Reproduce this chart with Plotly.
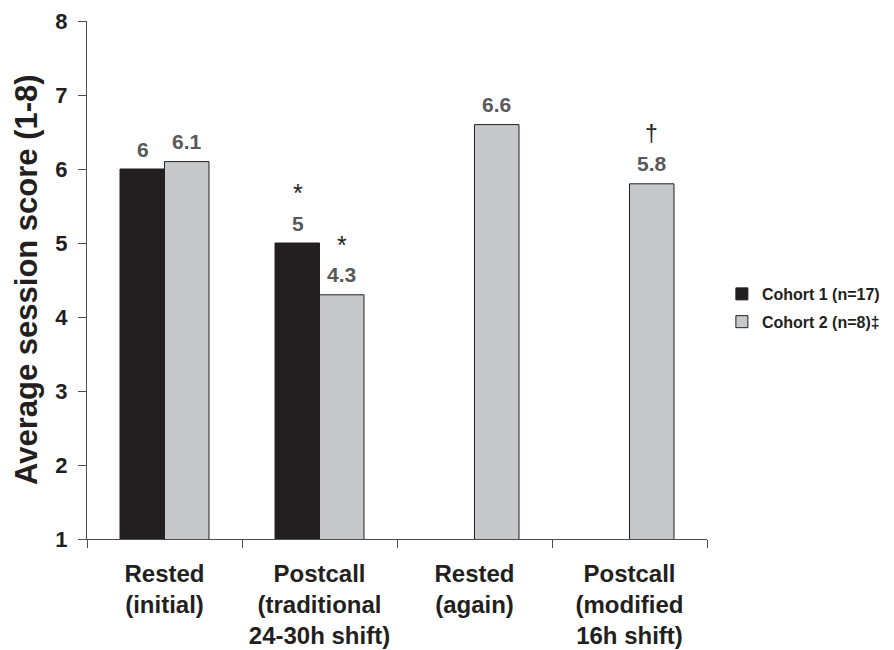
import plotly.graph_objects as go

categories = ["Rested<br>(initial)", "Postcall<br>(traditional<br>24-30h shift)",
              "Rested<br>(again)", "Postcall<br>(modified<br>16h shift)"]
cohort1_name = "Cohort 1 (n=17)"
cohort2_name = "Cohort 2 (n=8)\u2021"
cohort1_values = [6, 5, None, None]
cohort2_values = [6.1, 4.3, 6.6, 5.8]
cohort1_marks = ["", "*", "", ""]
cohort2_marks = ["", "*", "", "\u2020"]
y_ticks = [1, 2, 3, 4, 5, 6, 7, 8]
y_title = "Average session score (1-8)"

FONT = "Liberation Sans, Arial, sans-serif"
DARK = "#231f20"
GREY_TXT = "#58595b"

fig = go.Figure()
fig.add_trace(go.Bar(x=categories, y=cohort1_values, name=cohort1_name,
                     marker=dict(color=DARK, line=dict(color=DARK, width=1)),
                     legendgroup="c1"))
fig.add_trace(go.Bar(x=categories, y=cohort2_values, name=cohort2_name,
                     marker=dict(color="#c7c8ca", line=dict(color=DARK, width=1)),
                     legendgroup="c2"))

annotations = []
for vals, marks, shift in [(cohort1_values, cohort1_marks, -22), (cohort2_values, cohort2_marks, 22)]:
    for cat, v, m in zip(categories, vals, marks):
        if v is None:
            continue
        annotations.append(dict(x=cat, y=v, xref="x", yref="y", xshift=shift, yshift=20,
                                text="<b>%g</b>" % v, showarrow=False, yanchor="middle",
                                font=dict(family=FONT, size=21, color=GREY_TXT)))
        if m:
            annotations.append(dict(x=cat, y=v, xref="x", yref="y", xshift=shift, yshift=50,
                                    text=m, showarrow=False, yanchor="middle",
                                    font=dict(family=FONT, size=25 if m == "*" else 23, color=DARK)))

# y-axis title as rotated text
annotations.append(dict(x=0, y=0.5, xref="paper", yref="paper", xshift=-61, text="<b>%s</b>" % y_title,
                        textangle=-90, showarrow=False, xanchor="center", yanchor="middle",
                        font=dict(family=FONT, size=31, color=DARK)))

fig.update_layout(
    width=894, height=650,
    margin=dict(l=79, r=195, t=13, b=119),
    paper_bgcolor="white", plot_bgcolor="white",
    barmode="group", bargap=0.426, bargroupgap=0,
    annotations=annotations,
    font=dict(family=FONT, color=DARK),
    legend=dict(x=1.024, xanchor="left", y=0.446, yanchor="middle",
                font=dict(family=FONT, size=16, color=DARK, weight="bold"),
                tracegroupgap=4, traceorder="grouped"),
    xaxis=dict(showline=True, linecolor="#4d4d4f", linewidth=1, automargin=False,
               ticks="outside", tickson="boundaries", ticklen=8, tickcolor="#4d4d4f",
               ticklabelstandoff=13, tickangle=0,
               tickfont=dict(family=FONT, size=24, color=DARK, weight="bold"),
               showgrid=False),
    yaxis=dict(range=[1, 8], tickvals=y_ticks, showline=True, linecolor="#4d4d4f", linewidth=1,
               automargin=False, ticks="outside", ticklen=8, tickcolor="#4d4d4f",
               ticklabelstandoff=6,
               tickfont=dict(family=FONT, size=22, color=DARK, weight="bold"),
               showgrid=False, zeroline=False),
)
fig.write_html("out.html")
